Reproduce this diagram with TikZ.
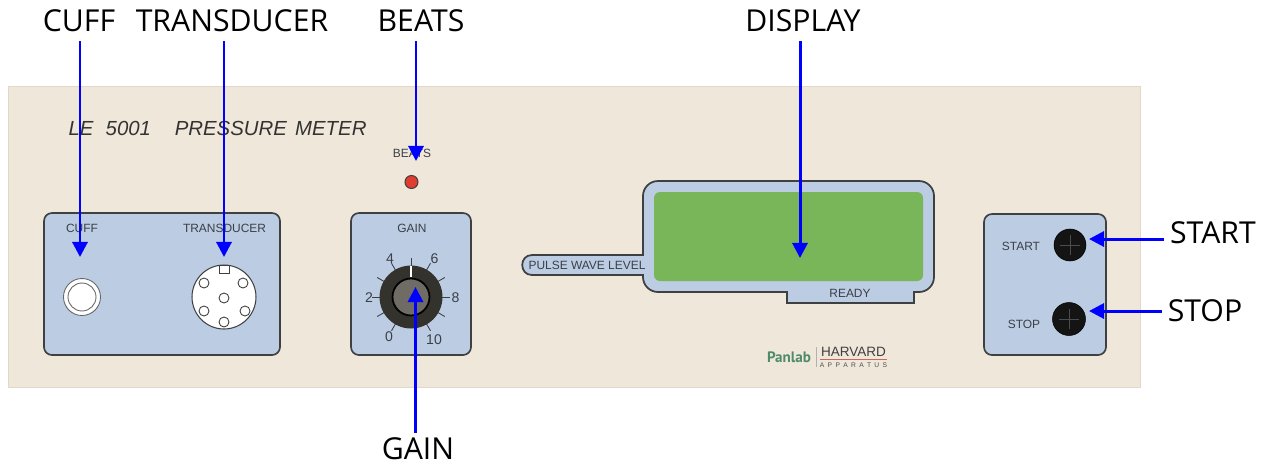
\documentclass[tikz,border=0pt]{standalone}
\usepackage{fontspec}
\setmainfont{Liberation Sans}
\newfontfamily\calloutfont{Open Sans}
\newfontfamily\logofont{PT Sans}
\usetikzlibrary{arrows.meta}
\definecolor{casing}{HTML}{F0E7DB}
\definecolor{casingedge}{HTML}{E2D8CA}
\definecolor{panelblue}{HTML}{BCCDE3}
\definecolor{paneledge}{HTML}{3F4042}
\definecolor{screengreen}{HTML}{79B559}
\definecolor{printgrey}{HTML}{3A3F48}
\definecolor{knobdark}{HTML}{33322C}
\definecolor{knobgrey}{HTML}{6E6C64}
\definecolor{ledred}{HTML}{E03C30}
\definecolor{logogreen}{HTML}{4F8A6B}
\definecolor{logored}{HTML}{C8685C}
\begin{document}
\begin{tikzpicture}[x=0.02cm, y=-0.02cm,
	panel/.style={draw=paneledge, line width=0.95pt, fill=panelblue, rounded corners=0.16cm},
	printed/.style={text=printgrey, font=\fontsize{6.8}{8}\selectfont, inner sep=0pt},
	scale mark/.style={text=printgrey, font=\fontsize{8}{9}\selectfont, inner sep=0pt},
	pin/.style={draw=paneledge, line width=0.5pt, fill=white},
	callout/.style={font=\calloutfont\fontsize{17.2}{19}\selectfont, text=black, inner sep=0pt, text height=11.9pt, text depth=0pt},
	pointer/.style={draw=blue, line width=1.7pt, shorten <=3.2pt, -{Triangle[width=8.6pt,length=8.6pt]}},
	startstop/.style={draw=black, fill=black!92, line width=0.3pt}]
	\useasboundingbox (0,0) rectangle (1272,461);
	\fill[fill=casing, draw=casingedge, line width=0.4pt] (8,86) rectangle (1140,387);
	\node[inner sep=0pt, text=black!80, font=\fontsize{11.6}{14}\selectfont\itshape] (title) at (217.5,128) {LE\hspace{7pt}5001\hspace{13.5pt}PRESSURE\hspace{4.7pt}METER};

	\draw[panel] (44,213) rectangle (280,355);
	\node[printed] (cufftext) at (82,228) {CUFF};
	\node[printed] (transducertext) at (224.5,228.5) {TRANSDUCER};
	\draw[draw=paneledge!80, line width=0.5pt, fill=white] (82,297) circle (0.37cm);
	\draw[draw=paneledge!80, line width=0.5pt, fill=white] (82,297) circle (0.28cm);
	\draw[draw=paneledge, line width=0.6pt, fill=white] (224,297) circle (0.64cm);
	\draw[pin] (219,265) rectangle (229,273);
	\foreach \px/\py in {204/283, 243/283, 224/298, 204/311, 245/311, 224/322}
		\draw[pin] (\px,\py) circle (0.1cm);

	\node[printed] (beatstext) at (412,153) {BEATS};
	\draw[draw=black!75, line width=0.6pt, fill=ledred] (411.5,182) circle (0.13cm);

	\draw[panel] (351,213) rectangle (471,355);
	\node[printed] (gaintext) at (412,228) {GAIN};
	\foreach \ang in {-60,-30,...,240}
		\draw[draw=paneledge, line width=0.5pt] (411,297) ++(\ang:0.6cm) -- ++(\ang:0.18cm);
	\fill[fill=knobdark] (411,297) circle (0.63cm);
	\draw[draw=white, line width=1.1pt] (411,265.5) -- (411,277);
	\draw[draw=black, line width=1pt, fill=knobgrey] (411,297) circle (0.37cm);
	\node[scale mark] (mark0) at (389,336.5) {0};
	\node[scale mark] (mark2) at (369,297.5) {2};
	\node[scale mark] (mark4) at (390,258.5) {4};
	\node[scale mark] (mark6) at (434.5,258.5) {6};
	\node[scale mark] (mark8) at (455.5,297.5) {8};
	\node[scale mark] (mark10) at (434,339.5) {10};

	\draw[draw=paneledge, line width=1pt, fill=panelblue] (643,255) -- (532,255) .. controls (519,255) and (519,275) .. (532,275) -- (643,275) [rounded corners=0.3cm] -- (643,292) [sharp corners] -- (787,292) -- (787,303) -- (914,303) -- (914,292) [rounded corners=0.3cm] -- (934,292) -- (934,181) -- (643,181) [sharp corners] -- cycle;
	\fill[fill=screengreen, rounded corners=0.12cm] (654,192) rectangle (923,281);
	\node[printed] (pulsetext) at (587,265) {PULSE WAVE LEVEL};
	\node[printed] (readytext) at (850,293) {READY};

	\node[inner sep=0pt, text=logogreen, font=\logofont\bfseries\fontsize{8.6}{10}\selectfont] (panlab) at (789,357) {Panlab};
	\draw[draw=black!30, line width=0.3pt] (816,347) -- (816,367);
	\node[inner sep=0pt, text=black!75, font=\fontsize{7.7}{9}\selectfont] (harvard) at (853.5,352) {HARVARD};
	\draw[draw=logored, line width=0.4pt] (820,359.5) -- (887,359.5);
	\node[inner sep=0pt, text=black!70, font=\fontsize{3.8}{5}\selectfont] (apparatus) at (853.5,365) {A\hspace{1.9pt}P\hspace{1.9pt}P\hspace{1.9pt}A\hspace{1.9pt}R\hspace{1.9pt}A\hspace{1.9pt}T\hspace{1.9pt}U\hspace{1.9pt}S};

	\draw[panel] (984,214) rectangle (1106,355);
	\node[printed] (starttext) at (1021,246) {START};
	\node[printed] (stoptext) at (1024,324) {STOP};
	\draw[startstop] (1070,245) circle (0.32cm);
	\draw[startstop] (1069,319) circle (0.33cm);
	\draw[draw=black!70, line width=0.3pt] (1060,245) -- (1080,245) (1070,235) -- (1070,255);
	\draw[draw=black!70, line width=0.3pt] (1059,319) -- (1079,319) (1069,309) -- (1069,329);

	\node[callout] (cufflabel) at (79,21) {CUFF};
	\node[callout] (transducerlabel) at (232,21) {TRANSDUCER};
	\node[callout] (beatslabel) at (421,21) {BEATS};
	\node[callout] (displaylabel) at (803,21) {DISPLAY};
	\node[callout] (gainlabel) at (418,449) {GAIN};
	\node[callout] (startlabel) at (1213,233) {START};
	\node[callout] (stoplabel) at (1205,311) {STOP};
	\coordinate (cufftip) at (80,257);
	\coordinate (transducertip) at (224,257);
	\coordinate (beatstip) at (416,161);
	\coordinate (displaytip) at (800,258);
	\coordinate (gaintip) at (415.5,287);
	\coordinate (starttip) at (1089,239);
	\coordinate (stoptip) at (1089,311);
	\draw[pointer, shorten <=5.4pt] (cufflabel.south -| cufftip) -- (cufftip);
	\draw[pointer, shorten <=5.4pt] (transducerlabel.south -| transducertip) -- (transducertip);
	\draw[pointer, shorten <=5.4pt] (beatslabel.south -| beatstip) -- (beatstip);
	\draw[pointer, shorten <=5.4pt] (displaylabel.south -| displaytip) -- (displaytip);
	\draw[pointer] (gainlabel.north -| gaintip) -- (gaintip);
	\draw[pointer] (startlabel.west |- starttip) -- (starttip);
	\draw[pointer] (stoplabel.west |- stoptip) -- (stoptip);
\end{tikzpicture}
\end{document}
